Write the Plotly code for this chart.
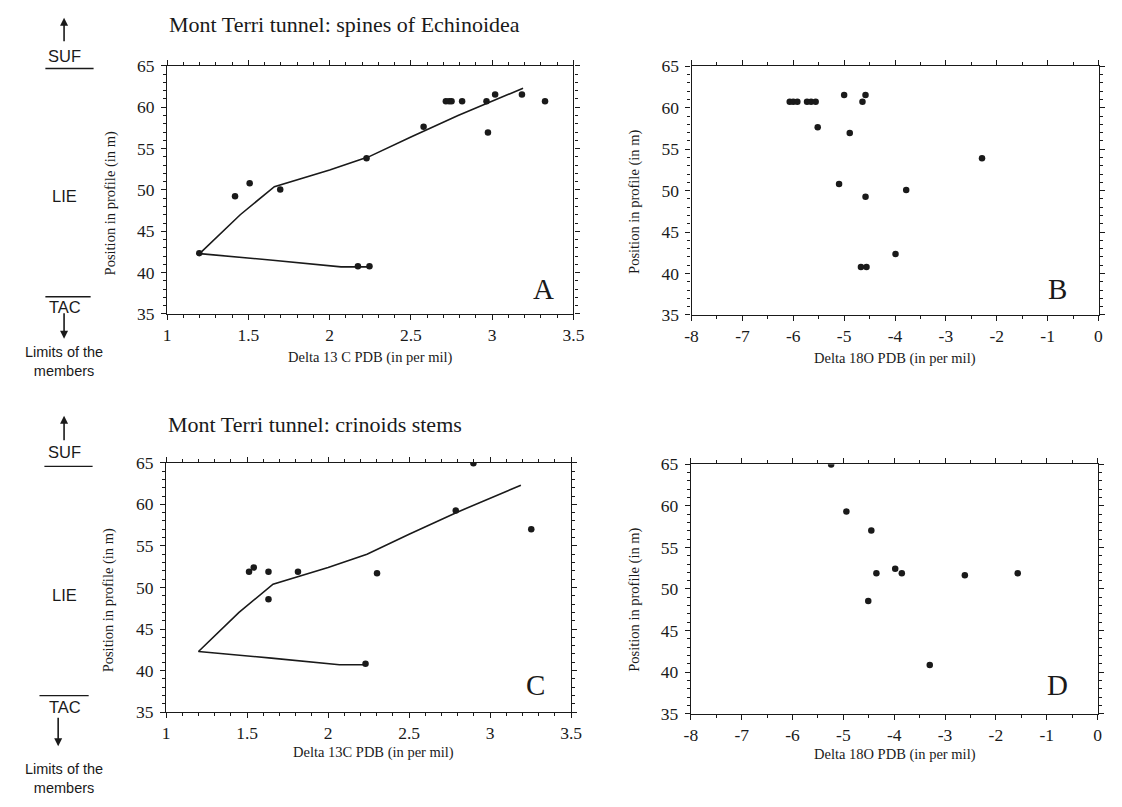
import plotly.graph_objects as go

# ---------------- data ----------------
A_d13c = [1.198, 1.418, 1.508, 1.696, 2.174, 2.245, 2.227, 2.578, 2.715, 2.735, 2.75,
          2.815, 2.965, 2.974, 3.018, 3.183, 3.325]
A_pos = [42.35, 49.23, 50.8, 50.06, 40.78, 40.78, 53.83, 57.65, 60.71, 60.71, 60.71,
         60.71, 60.71, 56.94, 61.54, 61.54, 60.71]

B_d18o = [-6.07, -6.00, -5.92, -5.73, -5.65, -5.56, -4.64, -5.00, -4.58, -5.52, -4.89,
          -5.10, -4.58, -3.78, -2.29, -3.99, -4.67, -4.56]
B_pos = [60.71, 60.71, 60.71, 60.71, 60.71, 60.71, 60.71, 61.54, 61.54, 57.65, 56.94,
         50.79, 49.25, 50.06, 53.9, 42.35, 40.78, 40.78]

C_d13c = [1.512, 1.541, 1.632, 1.632, 1.814, 2.302, 2.231, 2.788, 2.897, 3.254]
C_pos = [51.9, 52.4, 51.9, 48.57, 51.9, 51.7, 40.83, 59.25, 64.95, 57.0]

D_d18o = [-5.24, -4.94, -4.45, -4.35, -3.98, -3.85, -4.51, -2.61, -3.30, -1.57]
D_pos = [64.95, 59.3, 57.03, 51.88, 52.42, 51.88, 48.55, 51.64, 40.86, 51.88]

trend_d13c = [2.245, 2.07, 1.65, 1.2, 1.45, 1.66, 2.0, 2.24, 2.5, 2.79, 3.19]
trend_pos = [40.7, 40.7, 41.5, 42.3, 47.0, 50.4, 52.4, 54.0, 56.4, 59.0, 62.3]

d13c_ticks = [1, 1.5, 2, 2.5, 3, 3.5]
d18o_ticks = [-8, -7, -6, -5, -4, -3, -2, -1, 0]
pos_ticks = [35, 40, 45, 50, 55, 60, 65]

titles = ["Mont Terri tunnel: spines of Echinoidea", "Mont Terri tunnel: crinoids stems"]
xtitles = ["Delta 13 C PDB (in per mil)", "Delta 18O PDB (in per mil)",
           "Delta 13C PDB (in per mil)", "Delta 18O PDB (in per mil)"]
ytitle = "Position in profile (in m)"
letters = ["A", "B", "C", "D"]

# ---------------- layout helpers ----------------
W, H = 1122, 807
def px(x, y):
    return x / W, 1 - y / H

SERIF = "Liberation Serif"
SANS = "Liberation Sans"
INK = "#1a1a1a"

panels = [  # (left, top, right, bottom) in pixels
    (162.7, 57.3, 575.7, 311.7),
    (695.7, 57.7, 1109.3, 312.7),
    (161.7, 464.3, 573.3, 720.0),
    (695.0, 465.7, 1108.3, 721.7),
]

fig = go.Figure()

series = [(A_d13c, A_pos), (B_d18o, B_pos), (C_d13c, C_pos), (D_d18o, D_pos)]
for i, (xs, ys) in enumerate(series):
    sfx = "" if i == 0 else str(i + 1)
    if i in (0, 2):
        fig.add_trace(go.Scatter(x=trend_d13c, y=trend_pos, mode="lines",
                                 line=dict(color=INK, width=1.6),
                                 xaxis="x" + sfx, yaxis="y" + sfx, showlegend=False))
    fig.add_trace(go.Scatter(x=xs, y=ys, mode="markers",
                             marker=dict(color=INK, size=6.5),
                             xaxis="x" + sfx, yaxis="y" + sfx, showlegend=False))

axis_common = dict(showline=True, linecolor=INK, linewidth=1.2, mirror="allticks",
                   ticks="outside", ticklen=5, tickwidth=1, tickcolor=INK,
                   showgrid=False, zeroline=False,
                   tickfont=dict(family=SERIF, size=17.5, color=INK))

layout = dict(width=W, height=H, margin=dict(l=0, r=0, t=0, b=0),
              paper_bgcolor="white", plot_bgcolor="white", showlegend=False)

for i, (l, t, r, b) in enumerate(panels):
    sfx = "" if i == 0 else str(i + 1)
    x0, y1 = px(l, t)
    x1, y0 = px(r, b)
    if i in (0, 2):
        xr, xt, mdt = [1, 3.5], d13c_ticks, 0.1
    else:
        xr, xt, mdt = [-8, 0], d18o_ticks, 0.5
    layout["xaxis" + sfx] = dict(axis_common, domain=[x0, x1], range=xr,
                                 tickvals=xt, ticktext=[f"{v:g}" for v in xt],
                                 anchor="y" + sfx,
                                 minor=dict(dtick=mdt, tick0=0, ticks="outside", ticklen=3,
                                            tickcolor=INK, showgrid=False))
    layout["yaxis" + sfx] = dict(axis_common, domain=[y0, y1], range=[35, 65],
                                 tickvals=pos_ticks, anchor="x" + sfx, ticklabelstandoff=3,
                                 minor=dict(dtick=1, tick0=0, ticks="outside", ticklen=3,
                                            tickcolor=INK, showgrid=False))

fig.update_layout(**layout)

ann = []
def text(x, y, s, size, family=SERIF, angle=0, xanchor="center"):
    xp, yp = px(x, y)
    ann.append(dict(x=xp, y=yp, xref="paper", yref="paper", text=s, showarrow=False,
                    font=dict(family=family, size=size, color=INK), textangle=angle,
                    xanchor=xanchor, yanchor="middle"))

# titles
text(163, 15, titles[0], 22, xanchor="left")
text(162, 425, titles[1], 22, xanchor="left")

# x-axis titles
text(369, 356, xtitles[0], 14.5)
text(902, 357, xtitles[1], 14.5)
text(372, 761, xtitles[2], 14.5)
text(902, 763, xtitles[3], 14.5)

# y-axis titles
text(105, 198, ytitle, 14.5, angle=-90)
text(637, 197, ytitle, 14.5, angle=-90)
text(103, 605, ytitle, 14.5, angle=-90)
text(637, 605, ytitle, 14.5, angle=-90)

# panel letters
text(545, 286, letters[0], 29)
text(1068, 286, letters[1], 29)
text(537, 692, letters[2], 29)
text(1068, 692, letters[3], 29)

# left side member labels
for (suf_y, line1_y, lie_y, line2_y, tac_y, arr_top, arr_bot, lim_y,
     l1x, l2x, adx) in [
    (47, 60, 191, 294, 305, (8, 33), (310, 337), 360, (39, 88), (39, 85), 58),
    (453, 468, 600, 703, 715, (416, 442), (725, 755), 788, (38, 87), (33, 83), 52),
]:
    text(58, suf_y, "SUF", 16.5, family=SANS)
    text(58, lie_y, "LIE", 16.5, family=SANS)
    text(59, tac_y, "TAC", 16.5, family=SANS)
    text(58, lim_y, "Limits of the<br>members", 14.5, family=SANS)
    # up arrow (head at top)
    hx, hy = px(58, arr_top[0])
    ann.append(dict(x=hx, y=hy, xref="paper", yref="paper", text="", showarrow=True,
                    ax=0, ay=arr_top[1] - arr_top[0], arrowhead=2, arrowsize=1,
                    arrowwidth=1.6, arrowcolor=INK))
    # down arrow (head at bottom)
    hx, hy = px(adx, arr_bot[1])
    ann.append(dict(x=hx, y=hy, xref="paper", yref="paper", text="", showarrow=True,
                    ax=0, ay=-(arr_bot[1] - arr_bot[0]), arrowhead=2, arrowsize=1,
                    arrowwidth=1.6, arrowcolor=INK))
    for (xa, xb), yy in [(l1x, line1_y), (l2x, line2_y)]:
        a = px(xa, yy)
        bpt = px(xb, yy)
        fig.add_shape(type="line", xref="paper", yref="paper", x0=a[0], y0=a[1],
                      x1=bpt[0], y1=bpt[1], line=dict(color=INK, width=1.4))

fig.update_layout(annotations=ann)
fig.write_html("out.html")
